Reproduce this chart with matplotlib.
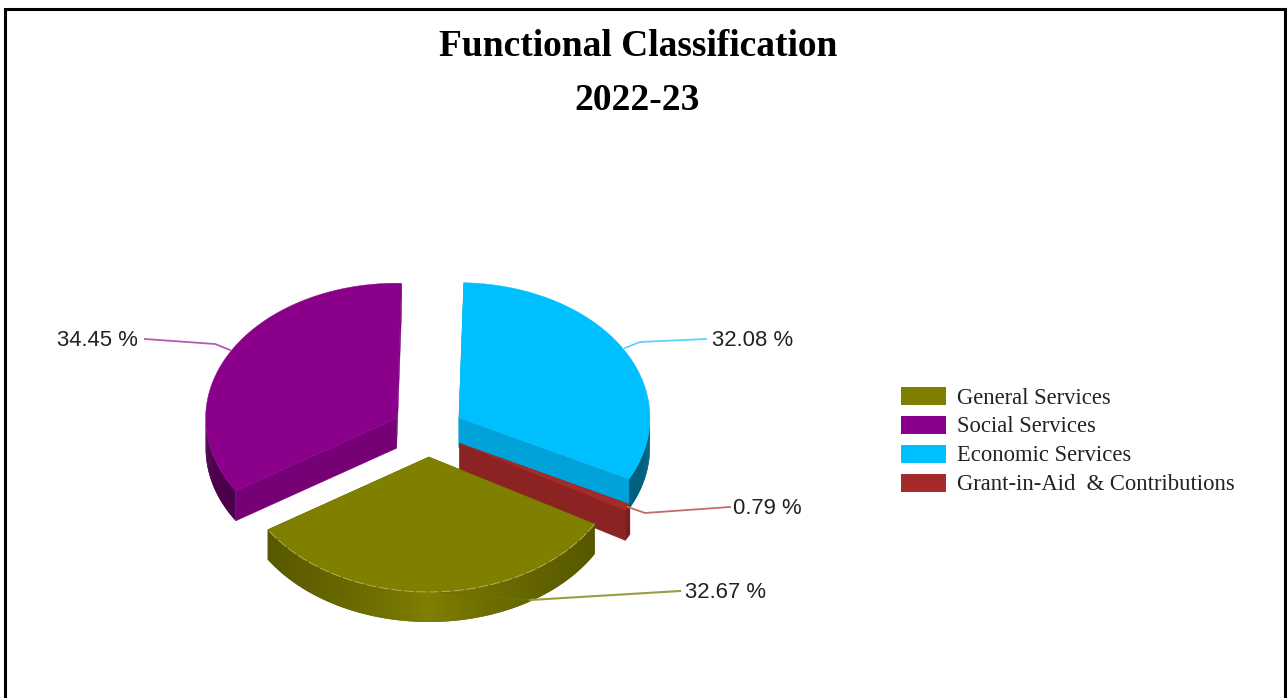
import numpy as np
import matplotlib
matplotlib.use('Agg')
import matplotlib.pyplot as plt
from matplotlib.patches import Polygon, Rectangle

# data
categories = ['General Services', 'Social Services', 'Economic Services', 'Grant-in-Aid  & Contributions']
shares = [32.67, 34.45, 32.08, 0.79]
share_labels = ['32.67 %', '34.45 %', '32.08 %', '0.79 %']
colors = ['#808000', '#8B008B', '#00BFFF', '#A52A2A']
edge_colors = ['#5c5c00', '#760076', '#00A3D9', '#8C2323']
rim_colors = ['#808000', '#4C004C', '#00607F', '#7a1f1f']
line_colors = ['#9C9C40', '#B45CB4', '#5CD2FF', '#C26B6B']

# geometry in picture pixels
CX, CY = 428, 431
RX, RY = 191, 135
EX, EY = 36, 26
DEPTH = 30
START = 29.8

fig = plt.figure(figsize=(12.87, 6.98), dpi=100)
ax = fig.add_axes([0, 0, 1, 1])
ax.set_xlim(0, 1287)
ax.set_ylim(698, 0)
ax.axis('off')


def pt(cx, cy, deg, dy=0):
    r = np.radians(deg)
    return cx + RX * np.cos(r), cy + RY * np.sin(r) + dy


fractions = np.array(shares) / sum(shares) * 360
starts = START + np.concatenate([[0], np.cumsum(fractions)[:-1]])

centers = []
for i in range(4):
    a0, a1 = starts[i], starts[i] + fractions[i]
    mid = np.radians((a0 + a1) / 2)
    cx = CX + EX * np.cos(mid)
    cy = CY + EY * np.sin(mid)
    centers.append((cx, cy, a0, a1))

for i in [1, 2, 3, 0]:
    cx, cy, a0, a1 = centers[i]

    # flat side faces along the cut edges
    for a in (a0, a1):
        x, y = pt(cx, cy, a)
        ax.add_patch(Polygon([(cx, cy), (x, y), (x, y + DEPTH), (cx, cy + DEPTH)],
                             fc=edge_colors[i], ec=edge_colors[i], lw=0.3, zorder=2))

    # outer rim, in overlapping strips so the olive slice gets its shading without seams
    steps = np.arange(a0, a1 + 0.5, 0.5)
    for s0, s1 in zip(steps[:-1], steps[1:]):
        if np.sin(np.radians((s0 + s1) / 2)) <= 0:
            continue
        p0 = pt(cx, cy, s0)
        p1 = pt(cx, cy, min(s1 + 0.6, a1))
        col = np.array(matplotlib.colors.to_rgb(rim_colors[i]))
        if i == 0:
            col = col * (1 - 0.36 * abs(np.cos(np.radians((s0 + s1) / 2))) ** 0.8)
        ax.add_patch(Polygon([p0, p1, (p1[0], p1[1] + DEPTH), (p0[0], p0[1] + DEPTH)],
                             fc=col, ec='none', zorder=2))

    # top face
    arc = [pt(cx, cy, a) for a in np.linspace(a0, a1, 200)]
    ax.add_patch(Polygon([(cx, cy)] + arc, fc=colors[i], ec=colors[i], lw=0.3, zorder=3))

    if i == 0:
        ax.plot(*zip(*arc), color='#B5B56A', lw=0.6, ls=(0, (12, 3)), zorder=4)

# leader lines and value labels
ax.plot([145, 215, 230], [339, 344, 350], color=line_colors[1], lw=1.3, zorder=5)
ax.plot([706, 640, 625], [339, 342, 348], color=line_colors[2], lw=1.3, zorder=5)
ax.plot([730, 645, 628], [507, 513, 507], color=line_colors[3], lw=1.3, zorder=5)
ax.plot([680, 530], [591, 600], color=line_colors[0], lw=1.5, zorder=5)
ax.plot([530, 440], [600, 592], color='#6f6f08', lw=1.3, zorder=3.5)

label_pos = [(685, 593), (57, 340), (712, 340), (733, 509)]
for lab, (x, y) in zip(share_labels, label_pos):
    ax.text(x, y, lab, fontsize=15.9, family='Liberation Sans', color='#222222',
            ha='left', va='center', zorder=6)

# title
ax.text(638.5, 47, 'Functional Classification', fontsize=27, family='Liberation Serif',
        fontweight='bold', ha='center', va='center')
ax.text(637, 101, '2022-23', fontsize=27, family='Liberation Serif',
        fontweight='bold', ha='center', va='center')

# legend
for i, name in enumerate(categories):
    y = 396 + i * 28.9
    ax.add_patch(Rectangle((901, y - 9), 45, 18, fc=colors[i], ec='none', zorder=3))
    ax.text(957, y + 2, name, fontsize=16.3, family='Liberation Serif', color='#222222',
            ha='left', va='center')

# page border, open at the bottom
ax.plot([5, 5, 1285, 1285], [698, 9, 9, 698], color='black', lw=2.2, solid_joinstyle='miter', zorder=7)

fig.savefig('out.png', dpi=100, facecolor='white')
